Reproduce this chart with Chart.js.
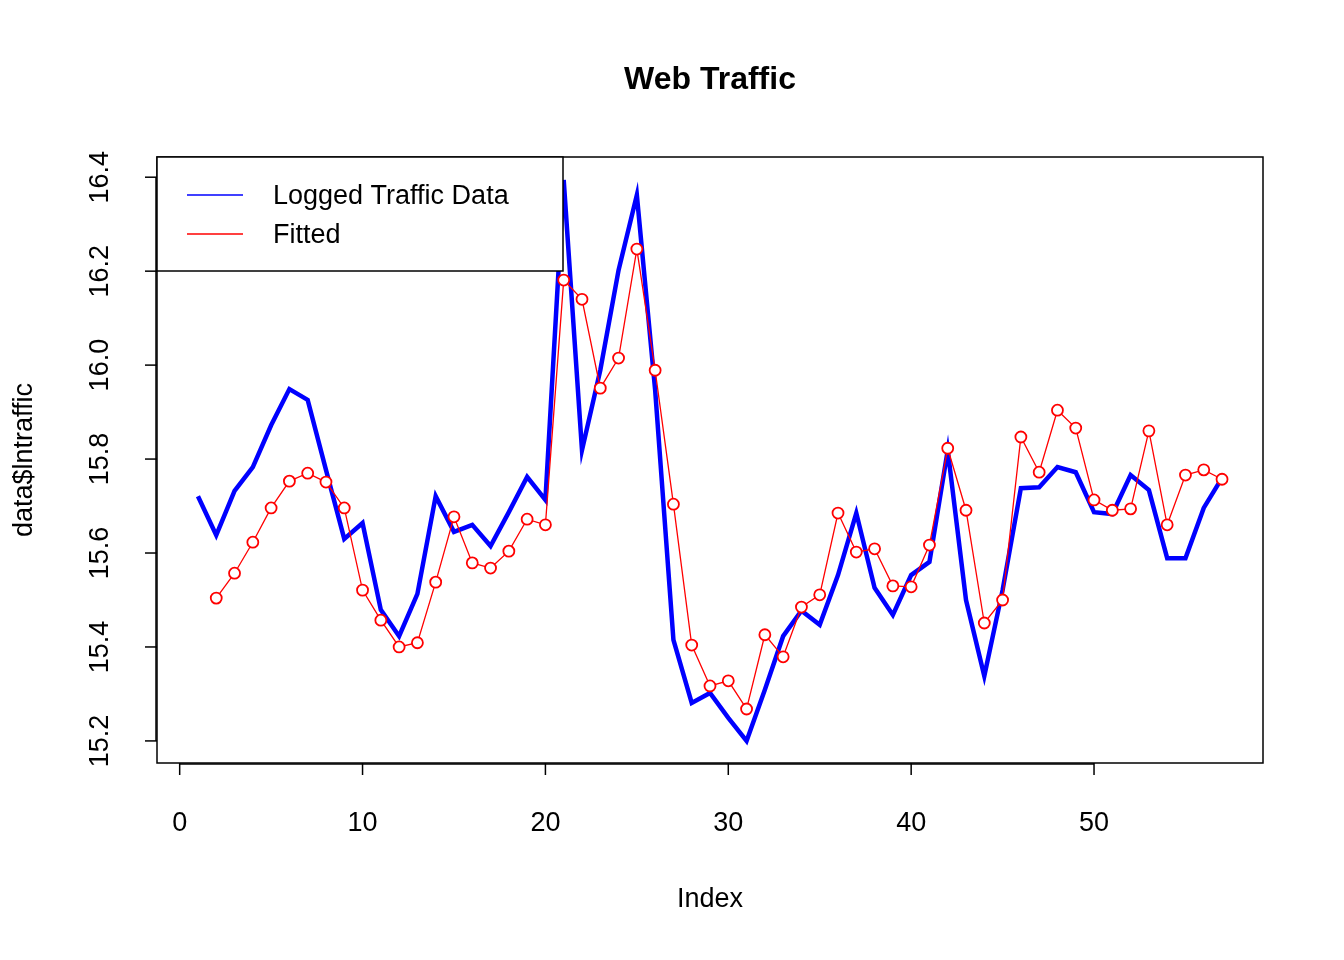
<!DOCTYPE html>
<html>
<head>
<meta charset="utf-8">
<script src="https://cdn.jsdelivr.net/npm/chart.js@4/dist/chart.umd.min.js"></script>
<style>
  html, body { margin: 0; padding: 0; background: #fff; }
  #wrap { width: 1344px; height: 960px; }
</style>
</head>
<body>
<div id="wrap"><canvas id="c" width="1344" height="960"></canvas></div>
<script>
const TITLE = 'Web Traffic';
const X_TITLE = 'Index';
const Y_TITLE = 'data$lntraffic';
const X_TICKS = [0, 10, 20, 30, 40, 50];
const Y_TICKS = [15.2, 15.4, 15.6, 15.8, 16.0, 16.2, 16.4];

const logged = [
  15.721, 15.638, 15.732, 15.783, 15.872, 15.949, 15.926, 15.777, 15.630, 15.664,
  15.479, 15.423, 15.513, 15.721, 15.645, 15.660, 15.615, 15.687, 15.762, 15.713,
  16.394, 15.819, 15.989, 16.202, 16.362, 15.947, 15.415, 15.281, 15.302, 15.249,
  15.200, 15.309, 15.423, 15.477, 15.447, 15.553, 15.685, 15.526, 15.468, 15.553,
  15.581, 15.819, 15.500, 15.338, 15.521, 15.738, 15.740, 15.783, 15.772, 15.687,
  15.683, 15.766, 15.734, 15.589, 15.589, 15.696, 15.760
];
const fitted = [
  null, 15.504, 15.557, 15.623, 15.696, 15.753, 15.770, 15.751, 15.696, 15.521,
  15.457, 15.400, 15.409, 15.538, 15.677, 15.579, 15.568, 15.604, 15.672, 15.660,
  16.181, 16.140, 15.951, 16.015, 16.247, 15.989, 15.704, 15.404, 15.317, 15.328,
  15.268, 15.426, 15.379, 15.485, 15.511, 15.685, 15.602, 15.609, 15.530, 15.528,
  15.617, 15.823, 15.691, 15.451, 15.500, 15.847, 15.772, 15.904, 15.866, 15.713,
  15.691, 15.694, 15.860, 15.660, 15.766, 15.777, 15.757
];
const index = logged.map((_, i) => i + 1);

const FONT = '"Liberation Sans", Arial, sans-serif';

const rAxes = {
  id: 'rAxes',
  afterDraw(chart) {
    const { ctx, chartArea: a } = chart;
    const xs = chart.scales.x, ys = chart.scales.y;
    ctx.save();
    ctx.strokeStyle = '#000';
    ctx.fillStyle = '#000';
    ctx.lineWidth = 1.5;
    ctx.strokeRect(a.left, a.top, a.right - a.left, a.bottom - a.top);

    // x axis
    ctx.beginPath();
    ctx.moveTo(xs.getPixelForValue(X_TICKS[0]), a.bottom + 1);
    ctx.lineTo(xs.getPixelForValue(X_TICKS[X_TICKS.length - 1]), a.bottom + 1);
    ctx.stroke();
    ctx.font = '27px ' + FONT;
    ctx.textAlign = 'center';
    ctx.textBaseline = 'middle';
    for (const t of X_TICKS) {
      const px = xs.getPixelForValue(t);
      ctx.beginPath();
      ctx.moveTo(px, a.bottom);
      ctx.lineTo(px, a.bottom + 12);
      ctx.stroke();
      ctx.fillText(String(t), px, 824);
    }

    // y axis
    ctx.beginPath();
    ctx.moveTo(a.left - 1, ys.getPixelForValue(Y_TICKS[0]));
    ctx.lineTo(a.left - 1, ys.getPixelForValue(Y_TICKS[Y_TICKS.length - 1]));
    ctx.stroke();
    for (const t of Y_TICKS) {
      const py = ys.getPixelForValue(t);
      ctx.beginPath();
      ctx.moveTo(a.left, py);
      ctx.lineTo(a.left - 12, py);
      ctx.stroke();
      ctx.save();
      ctx.translate(101, py);
      ctx.rotate(-Math.PI / 2);
      ctx.fillText(t.toFixed(1), 0, 0);
      ctx.restore();
    }

    // titles
    ctx.fillText(X_TITLE, (a.left + a.right) / 2, 900);
    ctx.save();
    ctx.translate(25, (a.top + a.bottom) / 2);
    ctx.rotate(-Math.PI / 2);
    ctx.fillText(Y_TITLE, 0, 0);
    ctx.restore();
    ctx.font = 'bold 32px ' + FONT;
    ctx.fillText(TITLE, (a.left + a.right) / 2, 80);

    // legend
    ctx.fillStyle = '#fff';
    ctx.fillRect(a.left, a.top, 406, 114);
    ctx.strokeRect(a.left, a.top, 406, 114);
    ctx.lineWidth = 1.5;
    ctx.strokeStyle = '#0000ff';
    ctx.beginPath(); ctx.moveTo(187, 195); ctx.lineTo(243, 195); ctx.stroke();
    ctx.strokeStyle = '#ff0000';
    ctx.beginPath(); ctx.moveTo(187, 234); ctx.lineTo(243, 234); ctx.stroke();
    ctx.fillStyle = '#000';
    ctx.font = '27px ' + FONT;
    ctx.textAlign = 'left';
    ctx.fillText('Logged Traffic Data', 273, 197);
    ctx.fillText('Fitted', 273, 236);
    ctx.restore();
  }
};

new Chart(document.getElementById('c'), {
  type: 'line',
  data: {
    labels: index,
    datasets: [
      {
        label: 'Fitted',
        data: index.map((x, i) => ({ x, y: fitted[i] })),
        borderColor: '#ff0000',
        borderWidth: 1.3,
        pointRadius: 5.5,
        pointBorderWidth: 1.8,
        pointBackgroundColor: '#ffffff',
        pointBorderColor: '#ff0000',
        tension: 0,
        order: 0
      },
      {
        label: 'Logged Traffic Data',
        data: index.map((x, i) => ({ x, y: logged[i] })),
        borderColor: '#0000ff',
        borderWidth: 4.5,
        pointRadius: 0,
        tension: 0,
        order: 1
      }
    ]
  },
  options: {
    responsive: false,
    animation: false,
    layout: { padding: { left: 157, right: 81, top: 157, bottom: 197 } },
    plugins: { legend: { display: false }, tooltip: { enabled: false } },
    scales: {
      x: { type: 'linear', display: false, min: -1.24, max: 59.24 },
      y: { type: 'linear', display: false, min: 15.153, max: 16.443 }
    }
  },
  plugins: [rAxes]
});
</script>
</body>
</html>
